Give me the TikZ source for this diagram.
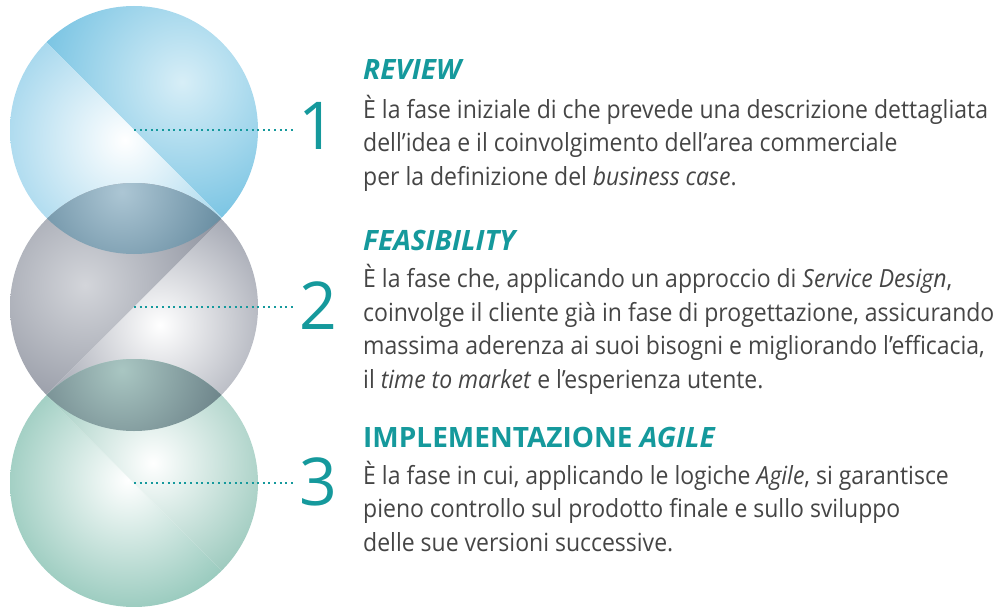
\documentclass[tikz,border=0pt]{standalone}
\usepackage{fontspec}
\setmainfont{Open Sans}
\newfontfamily\bodyfont{Open Sans}[FakeStretch=0.92]
\usetikzlibrary{positioning}
\definecolor{phaseteal}{HTML}{15999C}
\definecolor{bodygray}{HTML}{454545}
\tikzset{
        phase title/.style={anchor=base west, inner sep=0pt, text=phaseteal,
                font=\fontsize{28}{33}\selectfont\bfseries}, % heading of each phase
        phase text/.style={anchor=base west, inner sep=0pt, align=left, text=bodygray,
                font=\bodyfont\fontsize{25}{33.5}\selectfont}, % description, base = last line
        phase number/.style={inner sep=0pt, text=phaseteal,
                font=\fontsize{66}{70}\selectfont},
        leader/.style={phaseteal, line width=2pt, dash pattern=on 2pt off 3.6pt,
                shorten >=5pt},
    }

\begin{document}
\begin{tikzpicture}[x=1pt, y=-1pt]
    \useasboundingbox (0,0) rectangle (995,607);
    \coordinate (c1) at (134,130);
    \coordinate (c2) at (134,307);
    \coordinate (c3) at (134,483);

    % blue ball
    \begin{scope}
      \clip (c1) circle (124pt);
      \begin{scope}
        \clip (c1) ++(-200,-200) -- ++(400,400) -- ++(0,-400) -- cycle;
        \shade[inner color={rgb,255:red,215;green,238;blue,247}, outer color={rgb,255:red,108;green,190;blue,224}] (182,82) circle (165pt);
      \end{scope}
      \begin{scope}
        \clip (c1) ++(-200,-200) -- ++(400,400) -- ++(-400,0) -- cycle;
        \shade[inner color=white, outer color={rgb,255:red,165;green,215;blue,237}] (125,140) circle (130pt);
      \end{scope}
    \end{scope}

    % gray ball
    \begin{scope}
      \clip (c2) circle (124pt);
      \begin{scope}
        \clip (c2) ++(-200,200) -- ++(400,-400) -- ++(-400,0) -- cycle;
        \shade[inner color={rgb,255:red,211;green,213;blue,218}, outer color={rgb,255:red,134;green,139;blue,152}] (85,285) circle (165pt);
      \end{scope}
      \begin{scope}
        \clip (c2) ++(-200,200) -- ++(400,-400) -- ++(0,400) -- cycle;
        \shade[inner color=white, outer color={rgb,255:red,154;green,158;blue,170}] (160,325) circle (140pt);
      \end{scope}
    \end{scope}

    % green ball
    \begin{scope}
      \clip (c3) circle (124pt);
      \begin{scope}
        \clip (c3) ++(-200,-200) -- ++(400,400) -- ++(-400,0) -- cycle;
        \shade[inner color=white, outer color={rgb,255:red,150;green,201;blue,188}] (128,480) circle (135pt);
      \end{scope}
      \begin{scope}
        \clip (c3) ++(-200,-200) -- ++(400,400) -- ++(0,-400) -- cycle;
        \shade[inner color=white, outer color={rgb,255:red,140;green,193;blue,179}] (153,463) circle (150pt);
      \end{scope}
    \end{scope}

    % overlaps
    \begin{scope}
      \clip (c1) circle (124pt);
      \clip (c2) circle (124pt);
      \shade[inner color={rgb,255:red,172;green,198;blue,212}, outer color={rgb,255:red,84;green,124;blue,146}] (122,192) circle (135pt);
    \end{scope}
    \begin{scope}
      \clip (c2) circle (124pt);
      \clip (c3) circle (124pt);
      \shade[inner color={rgb,255:red,169;green,198;blue,194}, outer color={rgb,255:red,91;green,112;blue,121}] (122,370) circle (135pt);
    \end{scope}

    % numbers and leaders
    \node [phase number] (n1) at (317,125.5) {1};
    \node [phase number] (n2) at (318,306) {2};
    \node [phase number] (n3) at (318,482) {3};
    \draw [leader] (c1) -- (c1 -| n1.west);
    \draw [leader] (c2) -- (c2 -| n2.west);
    \draw [leader] (c3) -- (c3 -| n3.west);

    % texts
    \node [phase title] (t1) at (363,80) {\itshape REVIEW};
    \node [phase text] (d1) at (363,185) {È la fase iniziale di che prevede una descrizione dettagliata\\
        dell’idea e il coinvolgimento dell’area commerciale\\
        per la definizione del \textit{business case}.};

    \node [phase title] (t2) at (363,250) {\itshape FEASIBILITY};
    \node [phase text] (d2) at (363,388) {È la fase che, applicando un approccio di \textit{Service Design},\\
        coinvolge il cliente già in fase di progettazione, assicurando\\
        massima aderenza ai suoi bisogni e migliorando l’efficacia,\\
        il \textit{time to market} e l’esperienza utente.};

    \node [phase title] (t3) at (363,447) {IMPLEMENTAZIONE \textit{AGILE}};
    \node [phase text] (d3) at (363,551) {È la fase in cui, applicando le logiche \textit{Agile}, si garantisce\\
        pieno controllo sul prodotto finale e sullo sviluppo\\
        delle sue versioni successive.};
\end{tikzpicture}
\end{document}
